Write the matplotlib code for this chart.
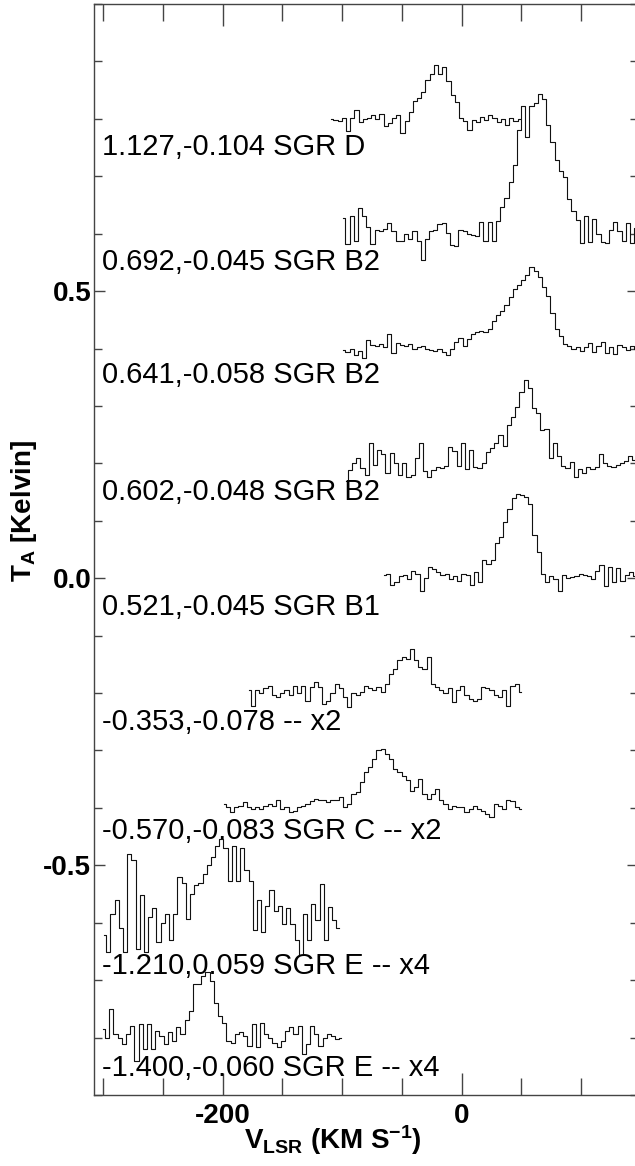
import matplotlib
matplotlib.use("Agg")
import matplotlib.pyplot as plt
from matplotlib.ticker import MultipleLocator, FixedLocator
import numpy as np

plt.rcParams['font.family'] = ['Liberation Sans', 'DejaVu Sans']
plt.rcParams['mathtext.fontset'] = 'custom'
plt.rcParams['mathtext.rm'] = 'Liberation Sans'
plt.rcParams['mathtext.bf'] = 'Liberation Sans:bold'
plt.rcParams['mathtext.it'] = 'Liberation Sans:italic'

# channel width (km/s) and first channel velocity of every spectrum
dv = 3.5
v_start = [-109, -99, -99, -97, -65, -178, -199, -299, -300]
baselines = [0.8, 0.6, 0.4, 0.2, 0.0, -0.2, -0.4, -0.6, -0.8]

labels = ["1.127,-0.104 SGR D", "0.692,-0.045 SGR B2", "0.641,-0.058 SGR B2",
          "0.602,-0.048 SGR B2", "0.521,-0.045 SGR B1", "-0.353,-0.078 -- x2",
          "-0.570,-0.083 SGR C -- x2", "-1.210,0.059 SGR E -- x4",
          "-1.400,-0.060 SGR E -- x4"]
label_y = [0.737, 0.537, 0.340, 0.136, -0.064, -0.265, -0.454, -0.689, -0.867]

# antenna temperature above each baseline (K)
sgr_d = [0.000, -0.002, -0.004, 0.002, -0.022, 0.001, 0.016, -0.006, 0.000, 0.002,
         0.006, 0.000, 0.008, -0.012, -0.008, 0.002, 0.007, -0.024, -0.004, 0.012,
         0.031, 0.036, 0.046, 0.068, 0.078, 0.094, 0.078, 0.090, 0.066, 0.041,
         0.030, 0.001, -0.004, -0.020, -0.002, -0.006, 0.004, -0.002, 0.007, 0.001,
         -0.006, 0.000, -0.010, 0.002, -0.004, 0.000]

b2_692 = [0.027, -0.018, 0.030, -0.012, 0.045, 0.030, 0.012, -0.018, 0.006, 0.004,
          0.008, 0.018, 0.004, -0.012, -0.012, 0.000, -0.010, 0.004, -0.012, -0.045,
          -0.010, 0.004, 0.006, 0.016, 0.018, 0.002, -0.020, -0.022, 0.006, 0.004,
          0.000, -0.002, -0.004, 0.020, -0.012, 0.020, -0.012, 0.022, 0.046, 0.062,
          0.090, 0.120, 0.180, 0.222, 0.169, 0.222, 0.228, 0.243, 0.234, 0.190,
          0.160, 0.128, 0.110, 0.098, 0.060, 0.040, 0.024, -0.016, 0.030, -0.014,
          0.026, 0.000, -0.014, -0.016, 0.006, 0.020, 0.004, -0.012, 0.018, -0.016,
          0.010]

b2_641 = [-0.002, -0.006, 0.000, -0.012, -0.004, -0.017, 0.014, 0.006, 0.004, 0.008,
          0.002, 0.026, -0.008, 0.010, 0.006, 0.004, 0.008, 0.000, 0.002, 0.004,
          0.000, -0.002, -0.004, 0.000, -0.006, -0.012, 0.000, 0.012, 0.018, 0.005,
          0.016, 0.026, 0.028, 0.030, 0.028, 0.034, 0.048, 0.058, 0.066, 0.076,
          0.090, 0.104, 0.110, 0.120, 0.128, 0.142, 0.135, 0.124, 0.108, 0.092,
          0.062, 0.034, 0.022, 0.008, 0.004, 0.000, 0.002, -0.004, 0.002, 0.010,
          -0.006, 0.004, 0.012, -0.008, 0.002, -0.010, 0.006, 0.002, -0.002, 0.004,
          0.000]

b2_602 = [-0.030, -0.012, 0.000, 0.010, -0.008, -0.020, 0.035, -0.002, 0.024, 0.016,
          -0.016, 0.018, 0.000, -0.020, 0.000, -0.023, -0.020, 0.010, 0.035, -0.014,
          -0.023, -0.012, -0.006, -0.008, -0.004, 0.029, 0.022, -0.004, 0.035, -0.010,
          0.024, -0.006, -0.008, 0.000, 0.020, 0.026, 0.035, 0.049, 0.030, 0.066,
          0.080, 0.098, 0.125, 0.146, 0.132, 0.097, 0.087, 0.058, 0.060, 0.009,
          0.035, 0.012, -0.004, -0.008, 0.002, -0.023, -0.010, -0.016, -0.006, -0.010,
          -0.006, 0.017, 0.000, -0.004, -0.006, -0.002, 0.000, 0.004, 0.012, 0.006]

b1_521 = [0.006, 0.008, -0.012, -0.006, 0.004, 0.006, -0.002, 0.012, 0.008, -0.023,
          0.000, 0.020, 0.016, 0.010, 0.006, 0.008, -0.002, 0.004, -0.004, 0.008,
          0.006, -0.012, 0.010, -0.006, 0.032, 0.024, 0.032, 0.061, 0.072, 0.098,
          0.121, 0.140, 0.147, 0.145, 0.142, 0.130, 0.075, 0.045, 0.008, -0.006,
          0.004, -0.002, -0.023, 0.006, 0.000, 0.002, 0.004, 0.008, 0.006, 0.004,
          -0.002, 0.012, 0.023, -0.014, 0.020, -0.006, 0.018, -0.004, 0.006, 0.010,
          0.004]

g353 = [0.005, -0.022, 0.005, 0.000, 0.008, 0.013, -0.004, -0.007, 0.000, 0.005,
        -0.004, 0.013, 0.000, 0.013, -0.013, 0.010, 0.019, 0.010, -0.019, -0.013,
        0.000, 0.016, 0.008, -0.007, -0.024, 0.000, -0.004, 0.002, 0.013, 0.008,
        0.005, 0.010, 0.002, 0.016, 0.034, 0.042, 0.057, 0.063, 0.060, 0.077,
        0.057, 0.045, 0.042, 0.063, 0.016, 0.010, 0.005, 0.000, 0.008, -0.016,
        0.005, 0.013, -0.004, -0.010, -0.013, -0.010, 0.010, 0.008, 0.005, -0.004,
        -0.007, 0.005, -0.022, 0.013, 0.016, 0.002]

sgr_c = [0.007, 0.001, -0.008, 0.001, 0.004, 0.010, 0.001, -0.002, 0.001, -0.002,
         0.004, 0.007, 0.004, 0.013, -0.002, 0.001, -0.008, -0.005, 0.001, 0.004,
         0.007, 0.012, 0.016, 0.013, 0.013, 0.010, 0.013, 0.013, 0.019, 0.001,
         0.007, 0.024, 0.028, 0.045, 0.062, 0.071, 0.085, 0.100, 0.103, 0.094,
         0.085, 0.068, 0.062, 0.056, 0.048, 0.030, 0.036, 0.050, 0.024, 0.016,
         0.024, 0.033, 0.013, 0.007, -0.002, 0.004, 0.001, 0.001, -0.008, -0.002,
         0.004, -0.002, -0.005, -0.010, -0.016, 0.007, 0.004, -0.002, 0.013, 0.012,
         0.001, -0.002]

sgr_e1 = [-0.022, -0.051, 0.016, 0.039, -0.010, -0.051, 0.120, 0.110, -0.045, 0.048,
          -0.051, 0.010, 0.025, -0.034, 0.000, 0.016, -0.030, 0.016, 0.080, 0.070,
          0.007, 0.050, 0.065, 0.070, 0.085, 0.100, 0.114, 0.134, 0.146, 0.131,
          0.073, 0.134, 0.073, 0.131, 0.091, 0.073, -0.013, 0.040, -0.016, 0.030,
          0.057, 0.020, 0.030, -0.003, 0.025, -0.003, -0.030, -0.057, 0.016, -0.030,
          0.033, 0.005, 0.067, -0.030, 0.027, 0.005, -0.010]

sgr_e2 = [0.015, 0.000, 0.050, 0.006, 0.000, -0.012, 0.006, 0.020, -0.041, 0.023,
          -0.020, 0.023, -0.020, 0.012, 0.003, -0.012, 0.009, -0.006, 0.018, 0.006,
          0.030, 0.047, 0.093, 0.093, 0.108, 0.114, 0.099, 0.060, 0.038, 0.026,
          -0.006, -0.009, 0.006, 0.009, 0.003, -0.015, 0.023, -0.017, 0.026, 0.006,
          0.000, -0.009, -0.017, -0.006, 0.012, 0.018, 0.006, 0.020, -0.029, -0.012,
          0.020, 0.006, -0.015, 0.000, 0.006, 0.003, -0.003, 0.000]

spectra = [sgr_d, b2_692, b2_641, b2_602, b1_521, g353, sgr_c, sgr_e1, sgr_e2]

W, H = 635, 1166
fig = plt.figure(figsize=(W / 100, H / 100), dpi=100)
ax = fig.add_axes([94 / W, (H - 1095) / H, (638 - 94) / W, (1095 - 4) / H])

for v0, base, vals in zip(v_start, baselines, spectra):
    vel = v0 + dv * np.arange(len(vals))
    ax.step(vel, base + np.array(vals), where='mid', color='#111111', lw=0.8)

for lab, ly in zip(labels, label_y):
    ax.text(-301, ly, lab, fontsize=21, ha='left', va='baseline')

ax.set_xlim(-307.5, 147.5)
ax.set_ylim(-0.9, 1.0)

ax.xaxis.set_major_locator(FixedLocator([-200, 0]))
ax.xaxis.set_minor_locator(MultipleLocator(50))
ax.yaxis.set_major_locator(FixedLocator([-0.5, 0.0, 0.5]))
ax.yaxis.set_minor_locator(MultipleLocator(0.1))
ax.set_xticklabels(["-200", "0"])
ax.set_yticklabels(["-0.5", "0.0", "0.5"])

spine_c = '#444444'
for s in ax.spines.values():
    s.set_color(spine_c)
    s.set_linewidth(1.0)

ax.tick_params(axis='x', which='major', direction='in', length=16, width=1,
               top=True, bottom=True, color=spine_c, pad=6)
ax.tick_params(axis='x', which='minor', direction='in', length=12, width=1,
               top=True, bottom=True, color=spine_c)
ax.tick_params(axis='y', which='major', direction='in', length=8, width=1,
               left=True, right=True, color=spine_c, pad=2)
ax.tick_params(axis='y', which='minor', direction='in', length=6, width=1,
               left=True, right=True, color=spine_c)
for t in ax.get_xticklabels() + ax.get_yticklabels():
    t.set_fontsize(20)
    t.set_fontweight('bold')

fig.text(333 / W, 1 - 1140 / H, r'$\mathbf{V_{LSR}}$ $\mathbf{(KM\ S^{-1})}$',
         fontsize=20, ha='center', va='center')
fig.text(24 / W, 1 - 511 / H, r'$\mathbf{T_{A}}$ $\mathbf{[Kelvin]}$',
         fontsize=20, ha='center', va='center', rotation=90)

fig.savefig("out.png", dpi=100)
